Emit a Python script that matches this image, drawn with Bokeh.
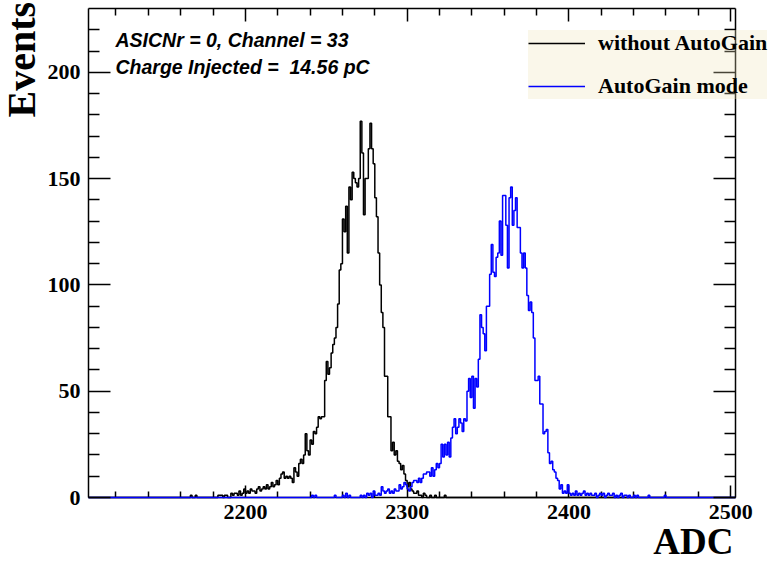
import numpy as np
from bokeh.plotting import figure
from bokeh.models import (Range1d, LinearAxis, FixedTicker, Legend,
                          LegendItem, Label)
from bokeh.embed import file_html
from bokeh.resources import INLINE

# ---- data -------------------------------------------------------------
X_START, X_END = 2103, 2503
Y_START, Y_END = 0, 230

# "without AutoGain" : counts per 1-ADC bin starting at ADC 2166
black_start = 2166
black_counts = [1, 0, 0, 1, 0, 0, 0, 0, 0, 0, 0, 0, 0, 0, 0, 0, 0,
                1, 1, 1, 0, 1, 1, 0, 0, 2, 1, 2, 2, 1, 3, 1, 2, 4, 2,
                3, 2, 4, 3, 3, 2, 4, 5, 3, 4, 5, 4, 6, 4, 5, 7, 5, 6,
                8, 6, 9, 11, 12, 9, 10, 9, 10, 9, 7, 14, 12, 10, 16, 18,
                16, 20, 30, 22, 20, 27, 25, 31, 30, 33, 38, 37, 38, 38,
                55, 64, 58, 61, 68, 72, 75, 80, 91, 107, 110, 131, 125,
                137, 115, 146, 140, 153, 150, 148, 146, 150, 177, 162,
                133, 150, 150, 164, 176, 164, 157, 141, 132, 115, 100,
                87, 80, 57, 57, 38, 38, 22, 26, 20, 22, 17, 16, 13, 15,
                11, 8, 5, 7, 4, 3, 2, 2, 3, 1, 1, 0, 2, 1, 0, 0, 1, 0,
                0, 1, 0, 0, 0, 0, 0, 1]

# "AutoGain mode" : counts per 1-ADC bin starting at ADC 2241
blue_start = 2241
blue_counts = [1, 0, 1, 0, 0, 0, 0, 0, 0, 0, 0, 0, 0, 0, 1, 0, 0, 0, 0,
               1, 0, 2, 0, 1, 0, 0, 0, 0, 0, 0, 1, 0, 1, 0, 2, 1, 2, 0,
               3, 1, 1, 2, 1, 5, 3, 2, 3, 4, 2, 3, 2, 4, 3, 3, 6, 4, 5,
               7, 6, 4, 3, 5, 7, 8, 8, 7, 9, 7, 9, 11, 11, 12, 12, 10,
               14, 10, 13, 16, 14, 16, 25, 19, 25, 20, 26, 19, 28, 33,
               37, 30, 33, 37, 35, 31, 37, 36, 50, 56, 47, 57, 42, 56,
               52, 65, 86, 80, 77, 69, 90, 90, 105, 119, 106, 104, 113,
               115, 130, 114, 142, 142, 128, 108, 141, 146, 128, 135,
               141, 127, 127, 115, 108, 115, 108, 95, 88, 92, 87, 75,
               55, 55, 57, 44, 44, 30, 31, 32, 21, 16, 17, 13, 12, 9, 8,
               4, 6, 2, 3, 2, 6, 2, 1, 2, 1, 3, 1, 2, 1, 2, 3, 1, 2, 1,
               2, 1, 1, 2, 0, 1, 2, 1, 2, 0, 1, 2, 1, 1, 2, 0, 1, 0, 1,
               2, 0, 1, 1, 0, 1, 0, 0, 1, 0, 1, 0, 0, 0, 0, 0, 0, 1, 0,
               0, 0, 0, 0, 0, 0, 0, 0, 1]

x_major_ticks = [2200, 2300, 2400, 2500]
x_minor_ticks = [2120, 2140, 2160, 2180, 2220, 2240, 2260, 2280, 2320,
                 2340, 2360, 2380, 2420, 2440, 2460, 2480]
y_major_ticks = [0, 50, 100, 150, 200]
y_minor_ticks = [10, 20, 30, 40, 60, 70, 80, 90, 110, 120, 130, 140,
                 160, 170, 180, 190, 210, 220]

series_labels = ["without AutoGain", "AutoGain mode"]
info_lines = ["ASICNr = 0, Channel = 33", "Charge Injected = \u00a014.56 pC"]
x_title = "ADC"
y_title = "Events"

# ---- layout (pixels) --------------------------------------------------
W, H = 777, 562
FRAME_L, FRAME_R, FRAME_T, FRAME_B = 88, 735, 8, 497
ppx = (FRAME_R - FRAME_L) / (X_END - X_START)
ppy = (FRAME_B - FRAME_T) / (Y_END - Y_START)
view_x = (X_START - FRAME_L / ppx, X_END + (W - FRAME_R) / ppx)
view_y = (Y_START - (H - FRAME_B) / ppy, Y_END + FRAME_T / ppy)


def full_hist(start, vals):
    counts = np.zeros(X_END - X_START)
    i0 = start - X_START
    counts[i0:i0 + len(vals)] = vals
    return counts


edges = np.arange(X_START, X_END + 1)
h_black = full_hist(black_start, black_counts)
h_blue = full_hist(blue_start, blue_counts)

# ---- figure -----------------------------------------------------------
p = figure(width=W, height=H,
           x_range=Range1d(*view_x), y_range=Range1d(*view_y),
           x_axis_type=None, y_axis_type=None,
           output_backend="svg", toolbar_location=None,
           min_border=0, min_border_left=0, min_border_right=0,
           min_border_top=0, min_border_bottom=0)
p.xgrid.visible = False
p.ygrid.visible = False
p.outline_line_color = None
p.background_fill_color = "white"
p.border_fill_color = "white"

LBL_FONT = "Liberation Serif"


def make_axis(ticker, loc, bounds, tick_in, minor_in, labels):
    ax = LinearAxis(ticker=ticker, fixed_location=loc, bounds=bounds,
                    major_tick_in=tick_in, major_tick_out=0,
                    minor_tick_in=minor_in, minor_tick_out=0,
                    axis_line_width=1.5, axis_line_color="black",
                    major_tick_line_width=1.5, minor_tick_line_width=1.5,
                    major_tick_line_color="black",
                    minor_tick_line_color="black")
    if labels:
        ax.major_label_text_font = LBL_FONT
        ax.major_label_text_font_style = "bold"
        ax.major_label_text_font_size = "22px"
        ax.major_label_text_color = "black"
    else:
        ax.major_label_text_color = None
    return ax


xt = FixedTicker(ticks=x_major_ticks, minor_ticks=x_minor_ticks)
yt = FixedTicker(ticks=y_major_ticks, minor_ticks=y_minor_ticks)

ax_b = make_axis(xt, Y_START, (X_START, X_END), 12, 6, True)
ax_b.major_label_standoff = 7
ax_b.level = "underlay"
ax_l = make_axis(yt, X_START, (Y_START, Y_END), 22, 11, True)
ax_l.major_label_standoff = 8
ax_t = make_axis(xt, Y_END, (X_START, X_END), 13, 7, False)
ax_r = make_axis(yt, X_END, (Y_START, Y_END), 22, 11, False)
p.add_layout(ax_b, "below")
p.add_layout(ax_l, "left")
p.add_layout(ax_t, "above")
p.add_layout(ax_r, "right")

r_black = p.step(x=edges, y=np.append(h_black, h_black[-1]), mode="after",
                 line_color="black", line_width=1.5)
r_blue = p.step(x=edges, y=np.append(h_blue, h_blue[-1]), mode="after",
                line_color="#0000ff", line_width=1.5)

legend = Legend(items=[LegendItem(label=series_labels[0], renderers=[r_black]),
                       LegendItem(label=series_labels[1], renderers=[r_blue])],
                location=(528, 463), padding=10, spacing=17, margin=0,
                glyph_width=57, glyph_height=24, label_height=24,
                label_standoff=13, label_text_font=LBL_FONT,
                label_text_font_style="bold", label_text_font_size="22px",
                label_text_color="black",
                background_fill_color="#efe6b8", background_fill_alpha=0.3,
                border_line_color=None)
p.add_layout(legend)

for txt, yy in zip(info_lines, [H - 39, H - 66]):
    p.add_layout(Label(x=115, y=yy, x_units="screen", y_units="screen",
                       text=txt, text_font="Liberation Sans",
                       text_font_style="bold italic", text_font_size="19.5px",
                       text_baseline="alphabetic", text_color="black"))

p.add_layout(Label(x=21, y=H - 117, x_units="screen", y_units="screen",
                   text=y_title, angle=np.pi / 2, text_align="left",
                   text_baseline="alphabetic", text_font=LBL_FONT,
                   text_font_style="bold", text_font_size="40px",
                   text_color="black"))
p.add_layout(Label(x=733, y=H - 541, x_units="screen", y_units="screen",
                   text=x_title, text_align="right",
                   text_baseline="alphabetic", text_font=LBL_FONT,
                   text_font_style="bold", text_font_size="37px",
                   text_color="black"))

open("out.html", "w").write(file_html(p, INLINE))
